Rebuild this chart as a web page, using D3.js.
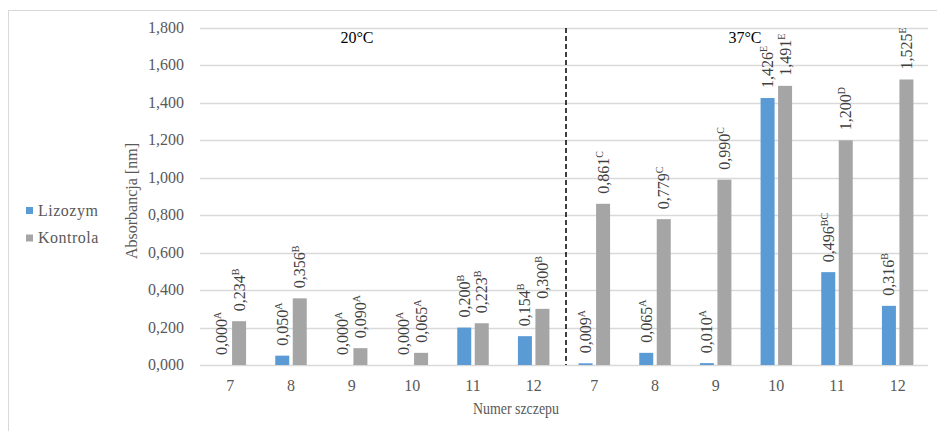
<!DOCTYPE html>
<html>
<head>
<meta charset="utf-8">
<script src="https://cdn.jsdelivr.net/npm/d3@7"></script>
<style>
  body { margin: 0; background: #fff; }
</style>
</head>
<body>
<div id="chart"></div>
<script>
// data
var strains = ["7","8","9","10","11","12","7","8","9","10","11","12"];
var series = ["Lizozym","Kontrola"];
var lizozym = [0.000,0.050,0.000,0.000,0.200,0.154,0.009,0.065,0.010,1.426,0.496,0.316];
var kontrola = [0.234,0.356,0.090,0.065,0.223,0.300,0.861,0.779,0.990,1.491,1.200,1.525];
var lizozymLetters = ["A","A","A","A","B","B","A","A","A","E","BC","B"];
var kontrolaLetters = ["B","B","A","A","B","B","C","C","C","E","D","E"];
var temps = ["20°C","37°C"];
var colors = {"Lizozym":"#5b9bd5","Kontrola":"#a5a5a5"};

var W = 937, H = 431;
var svg = d3.select("#chart").append("svg")
      .attr("width",W).attr("height",H)
      .attr("font-family","'Liberation Serif', serif");

// chart border
svg.append("rect")
    .attr("x",8.5).attr("y",10.5)
    .attr("width",W+10).attr("height",H+10)
    .attr("fill","none").attr("stroke","#d9d9d9");

var x = d3.scaleBand()
      .domain(d3.range(strains.length))
      .range([200,928]);
var y = d3.scaleLinear().domain([0,1.8]).range([365,28]);

var fmt = function(v){ return d3.format(".3f")(v).replace(".",","); };

// grid
svg.append("g").selectAll("line")
    .data(y.ticks(9))
    .enter().append("line")
    .attr("x1",200).attr("x2",928)
    .attr("y1",function(d){return Math.round(y(d))+0.5;})
    .attr("y2",function(d){return Math.round(y(d))+0.5;})
    .attr("stroke","#d9d9d9").attr("stroke-width",1.3);

// y tick labels
svg.append("g").selectAll("text")
    .data(y.ticks(9))
    .enter().append("text")
    .attr("x",184).attr("y",function(d){return y(d)+5;})
    .attr("text-anchor","end")
    .attr("fill","#595959").attr("font-size",16)
    .text(function(d){return fmt(d);});

// x tick labels
svg.append("g").selectAll("text")
    .data(strains)
    .enter().append("text")
    .attr("x",function(d,i){return x(i)+x.bandwidth()/2;})
    .attr("y",391)
    .attr("text-anchor","middle")
    .attr("fill","#595959").attr("font-size",16)
    .text(function(d){return d;});

// axis titles
svg.append("text")
    .attr("x",516).attr("y",414)
    .attr("text-anchor","middle")
    .attr("fill","#595959").attr("font-size",16)
    .attr("textLength",86).attr("lengthAdjust","spacingAndGlyphs")
    .text("Numer szczepu");

svg.append("text")
    .attr("transform","translate(137,201) rotate(-90)")
    .attr("text-anchor","middle")
    .attr("fill","#595959").attr("font-size",16)
    .text("Absorbancja [nm]");

// bars
var sub = d3.scaleBand().domain(series).range([-15.75,15.75]).paddingInner(0.2);

var rows = [];
for(var i=0,len=strains.length;i<len;i++){
    rows.push({i:i,s:"Lizozym",v:lizozym[i],l:lizozymLetters[i]});
    rows.push({i:i,s:"Kontrola",v:kontrola[i],l:kontrolaLetters[i]});
}
var cx = function(d){ return x(d.i)+x.bandwidth()/2+sub(d.s); };

svg.append("g").selectAll("rect")
    .data(rows)
    .enter().append("rect")
    .attr("x",cx)
    .attr("y",function(d){return y(d.v);})
    .attr("width",sub.bandwidth())
    .attr("height",function(d){return y(0)-y(d.v);})
    .attr("fill",function(d){return colors[d.s];});

// value labels (rotated)
var lab = svg.append("g").selectAll("text")
    .data(rows)
    .enter().append("text")
    .attr("transform",function(d){
        return "translate("+(cx(d)+sub.bandwidth()/2+5.5)+","+(y(d.v)-10)+") rotate(-90)";
    })
    .attr("fill","#404040").attr("font-size",16);
lab.append("tspan").text(function(d){return fmt(d.v);});
lab.append("tspan")
    .attr("font-size",10).attr("dy",-6)
    .text(function(d){return d.l;});

// separator between temperatures
var sep = x(6)+2;
svg.append("line")
    .attr("x1",sep).attr("x2",sep)
    .attr("y1",y(1.8)).attr("y2",y(0))
    .attr("stroke","#000").attr("stroke-width",1.5)
    .attr("stroke-dasharray","5,3");

// temperature headers
svg.append("g").selectAll("text")
    .data(temps)
    .enter().append("text")
    .attr("x",function(d,i){return i==0 ? 357 : 745;})
    .attr("y",43)
    .attr("text-anchor","middle")
    .attr("fill","#000").attr("font-size",16)
    .text(function(d){return d;});

// legend
var legend = svg.append("g").selectAll("g")
    .data(series)
    .enter().append("g")
    .attr("transform",function(d,i){return "translate(26,"+(207+i*27.5)+")";});
legend.append("rect")
    .attr("width",7).attr("height",7)
    .attr("fill",function(d){return colors[d];});
legend.append("text")
    .attr("x",12).attr("y",8.5)
    .attr("fill","#595959").attr("font-size",16)
    .attr("letter-spacing",0.5)
    .text(function(d){return d;});
</script>
</body>
</html>
